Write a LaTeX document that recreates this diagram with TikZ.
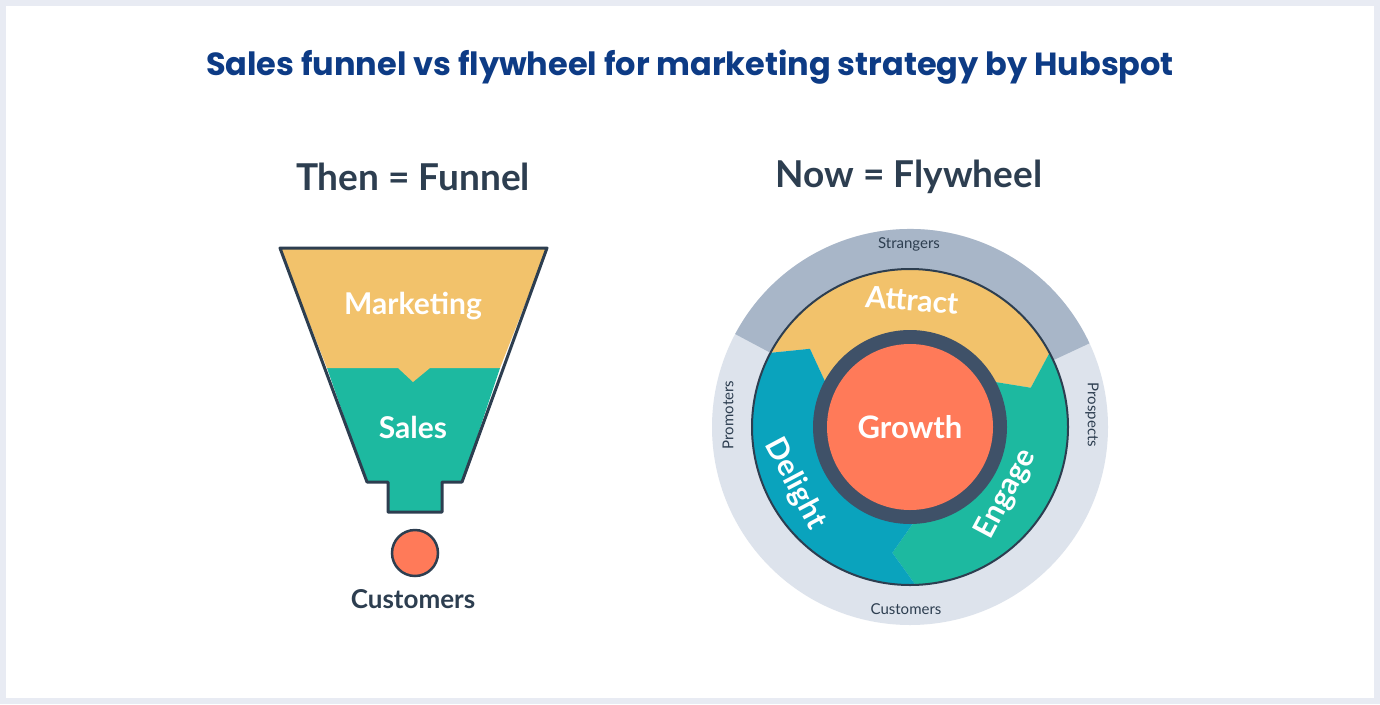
\documentclass[tikz,border=0pt]{standalone}
\usepackage{fontspec}
\setmainfont{Lato}
\newfontfamily\titlefont{Poppins}
\definecolor{navy}{HTML}{0D3B85}
\definecolor{ink}{HTML}{2D3E50}
\definecolor{mustard}{HTML}{F2C26B}
\definecolor{seagreen}{HTML}{1DB9A0}
\definecolor{cyanblue}{HTML}{0AA3BD}
\definecolor{coral}{HTML}{FF7A59}
\definecolor{slate}{HTML}{3F5168}
\definecolor{ringlight}{HTML}{DDE3EC}
\definecolor{ringdark}{HTML}{A8B6C8}
\definecolor{frame}{HTML}{E8EBF3}
\tikzset{
  heading/.style={font=\bfseries\fontsize{37}{40}\selectfont,text=ink},
  inlabel/.style={font=\bfseries\fontsize{30}{32}\selectfont,text=white},
  outlabel/.style={font=\fontsize{15}{17}\selectfont,text=ink}
}
% sector of the wheel, head pointing clockwise
\newcommand\wheelpart[3]{%
  \fill[#3] (#1:158) arc[start angle=#1,end angle=#2,radius=158] -- (#2-10:127) -- (#2:96)
    arc[start angle=#2,end angle=#1,radius=96] -- (#1-10:127) -- cycle;}
\begin{document}
\begin{tikzpicture}[x=1pt,y=-1pt]
\fill[frame] (0,0) rectangle (1380,704);
\fill[white] (6,6) rectangle (1374,698);
\node[font=\titlefont\bfseries\fontsize{32}{35}\selectfont,text=navy] (title) at (690,67) {Sales funnel vs flywheel for marketing strategy by Hubspot};
\node[heading] (then) at (413,177) {Then = Funnel};
\node[heading] (now) at (909,177) {Now = Flywheel};
% funnel
\fill[seagreen] (327,368) -- (500,368) -- (462,482)
  -- (442,482) -- (442,512) -- (388,512) -- (388,482) -- (367,482) -- cycle;
\fill[mustard] (280,248) -- (547,248) -- (500,368) -- (430,368) -- (413,382) -- (398,368) -- (327,368) -- cycle;
\draw[ink,line width=3pt,line join=round] (280,248) -- (547,248) -- (462,482) -- (442,482) -- (442,512)
  -- (388,512) -- (388,482) -- (367,482) -- cycle;
\node[inlabel] (marketing) at (413,306) {Marketing};
\node[inlabel] (sales) at (413,427) {Sales};
\node[circle,fill=coral,draw=ink,line width=2.5pt,minimum size=46pt,inner sep=0pt] (dot) at (415,553) {};
\node[font=\bfseries\fontsize{26}{28}\selectfont,text=ink] (customersA) at (413,599) {Customers};
% flywheel
\begin{scope}[shift={(910,427)},yscale=-1]
\fill[ringlight] (0,0) circle[radius=198];
\fill[ringdark] (152:198) arc[start angle=152,end angle=25,radius=198] -- (25:158)
  arc[start angle=25,end angle=152,radius=158] -- cycle;
\wheelpart{152}{28}{mustard}
\wheelpart{28}{-88}{seagreen}
\wheelpart{272}{152}{cyanblue}
\draw[ink,line width=2pt] (0,0) circle[radius=158];
\fill[slate] (0,0) circle[radius=97];
\fill[coral] (0,0) circle[radius=83];
\end{scope}
\node[font=\bfseries\fontsize{31}{34}\selectfont,text=white] (growth) at (910,427) {Growth};
\node[inlabel,rotate=-4] (attract) at (912,300) {Attract};
\node[inlabel,rotate=62] (engage) at (1006,494) {Engage};
\node[inlabel,rotate=-62] (delight) at (795,484) {Delight};
\node[outlabel] (strangers) at (909,244) {Strangers};
\node[outlabel,rotate=-90] (prospects) at (1092,415) {Prospects};
\node[outlabel,rotate=90] (promoters) at (728,415) {Promoters};
\node[outlabel] (customersB) at (906,609) {Customers};
\end{tikzpicture}
\end{document}
